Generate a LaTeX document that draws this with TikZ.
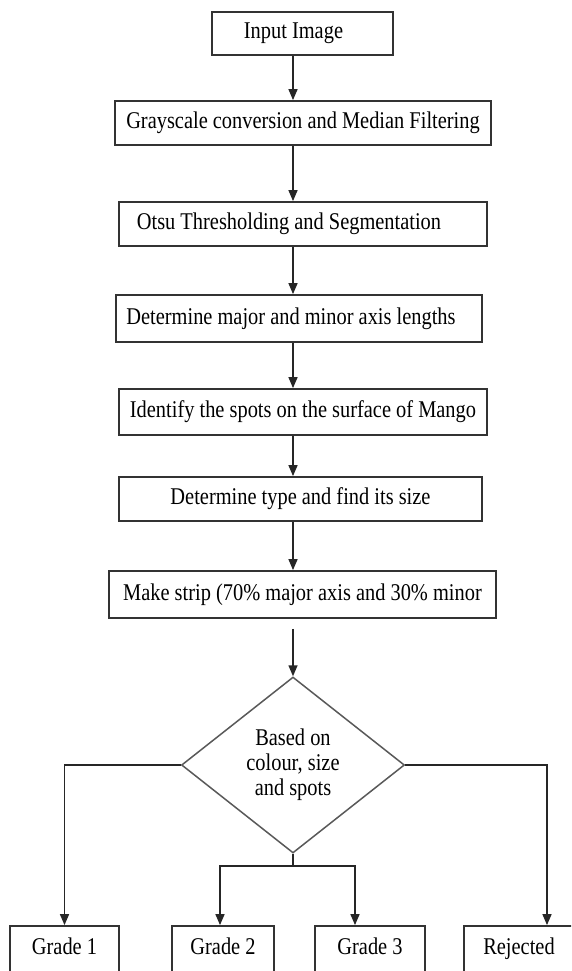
\documentclass[tikz,border=0pt]{standalone}
\usepackage{fontspec}
\setmainfont{Liberation Serif}[FakeStretch=0.85]
\usetikzlibrary{shapes.geometric,arrows.meta,calc}
\begin{document}
\begin{tikzpicture}[x=1pt,y=-1pt,
  box/.style={draw=black!80,line width=1.8pt,rectangle,inner sep=0pt,text height=16pt,text depth=5pt,font=\fontsize{24}{25}\selectfont},
  dec/.style={draw=black!65,line width=1.5pt,diamond,aspect=1.267,minimum width=223pt,minimum height=176pt,inner sep=0pt,align=center,font=\fontsize{24}{25}\selectfont},
  arr/.style={draw=black!85,line width=1.5pt,-{Triangle[length=11pt,width=9pt]}},
  ln/.style={draw=black!85,line width=1.5pt}]
\path[use as bounding box] (0,0) rectangle (571,971);
\clip (0,0) rectangle (571,971);
\fill[white] (0,0) rectangle (571,971);

\coordinate (col) at (293,0);
\coordinate (c2) at (220,0);
\coordinate (c3) at (355,0);
\coordinate (rcol) at (547,0);
\coordinate (jn) at (293,866);

\node[box,minimum width=181pt,minimum height=43pt] (in) at (302.5,33.5) {Input Image\hspace*{18pt}};
\node[box,minimum width=376pt,minimum height=44pt] (gray) at (303,123) {Grayscale conversion and Median Filtering};
\node[box,minimum width=368pt,minimum height=44pt] (otsu) at (303,224) {Otsu Thresholding and Segmentation\hspace*{28pt}};
\node[box,minimum width=366pt,minimum height=47pt] (major) at (299,318.5) {Determine major and minor axis lengths\hspace*{16pt}};
\node[box,minimum width=368pt,minimum height=46pt] (spots) at (303,412) {Identify the spots on the surface of Mango};
\node[box,minimum width=363pt,minimum height=44pt] (type) at (300.5,499) {Determine type and find its size};
\node[box,minimum width=387pt,minimum height=47pt] (strip) at (302.5,594.5) {Make strip (70\% major axis and 30\% minor};

\node[dec] (dia) at (293,765) {Based on\\colour, size\\and spots};

\node[box,minimum width=109pt,minimum height=46pt] (g1) at (64.5,949) {Grade 1};
\node[box,minimum width=102pt,minimum height=46pt] (g2) at (223,949) {Grade 2};
\node[box,minimum width=110pt,minimum height=46pt] (g3) at (370,949) {Grade 3};
\node[box,minimum width=115pt,minimum height=46pt] (rej) at (521.5,949) {Rejected\hspace*{5pt}};

\draw[arr] (in.south -| col) -- (gray.north -| col);
\draw[arr] (gray.south -| col) -- (otsu.north -| col);
\draw[arr] (otsu.south -| col) -- (major.north -| col);
\draw[arr] (major.south -| col) -- (spots.north -| col);
\draw[arr] (spots.south -| col) -- (type.north -| col);
\draw[arr] (type.south -| col) -- (strip.north -| col);
\draw[arr] ([yshift=-10pt]strip.south -| col) -- (dia.north);

\draw[arr] (dia.west) -| (g1.north);
\draw[arr] (dia.east) -| (rcol |- rej.north);
\draw[ln] (dia.south) -- (jn);
\draw[arr] (jn) -| (c2 |- g2.north);
\draw[arr] (jn) -| (c3 |- g3.north);
\end{tikzpicture}
\end{document}
